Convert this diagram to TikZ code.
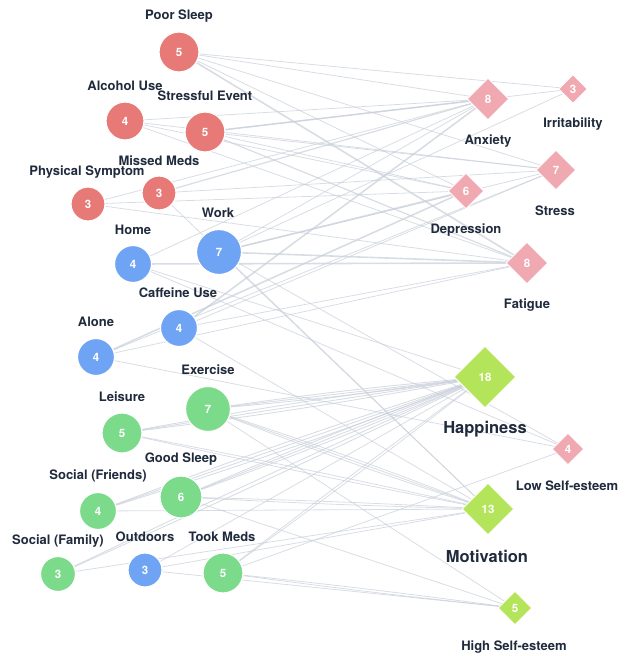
\documentclass[tikz,border=0pt]{standalone}
\usepackage{fontspec}
\setmainfont{TeX Gyre Heros}
\usetikzlibrary{shapes.geometric,backgrounds}
\definecolor{cred}{HTML}{E77A77}
\definecolor{cblue}{HTML}{6FA4F4}
\definecolor{cgreen}{HTML}{7BDB8B}
\definecolor{cpink}{HTML}{F0A9B1}
\definecolor{cgd}{HTML}{B4E45A}
\definecolor{ctext}{HTML}{1F2A3C}
\definecolor{cedge}{HTML}{C8CED9}
\begin{document}
\begin{tikzpicture}[x=1pt,y=-1pt,
 circ/.style={circle,draw=white,line width=1.2pt,inner sep=0pt,text=white,font=\bfseries\fontsize{11.5}{11.5}\selectfont},
 dia/.style={diamond,draw=white,line width=1pt,inner sep=0pt,text=white,font=\bfseries\fontsize{11.5}{11.5}\selectfont},
 lab/.style={text=ctext,font=\bfseries\fontsize{13}{13}\selectfont,inner sep=0pt},
 biglab/.style={text=ctext,font=\bfseries\fontsize{16.5}{16.5}\selectfont,inner sep=0pt},
 edge/.style={draw=cedge,opacity=0.7},
]
\useasboundingbox (0,0) rectangle (632,656);
% left nodes
\node[circ,fill=cred,minimum size=40pt] (ps) at (179,52) {5};
\node[lab] (psl) at (179,16) {Poor Sleep};
\node[circ,fill=cred,minimum size=38pt] (al) at (125,121) {4};
\node[lab] (all) at (125,86) {Alcohol Use};
\node[circ,fill=cred,minimum size=40pt] (se) at (205,132) {5};
\node[lab] (sel) at (205,96) {Stressful Event};
\node[circ,fill=cred,minimum size=34pt] (mm) at (159,193) {3};
\node[lab] (mml) at (159,161) {Missed Meds};
\node[circ,fill=cred,minimum size=34pt] (phy) at (88,204) {3};
\node[lab] (phyl) at (87,172) {Physical Symptom};
\node[circ,fill=cblue,minimum size=45pt] (wk) at (219,252) {7};
\node[lab] (wkl) at (218,213) {Work};
\node[circ,fill=cblue,minimum size=37pt] (hm) at (133,264) {4};
\node[lab] (hml) at (133,230) {Home};
\node[circ,fill=cblue,minimum size=37pt] (cf) at (179,328) {4};
\node[lab] (cfl) at (178,293) {Caffeine Use};
\node[circ,fill=cblue,minimum size=37pt] (aln) at (96,357) {4};
\node[lab] (alnl) at (96,322) {Alone};
\node[circ,fill=cgreen,minimum size=45pt] (ex) at (208,409) {7};
\node[lab] (exl) at (208,370) {Exercise};
\node[circ,fill=cgreen,minimum size=40pt] (le) at (122,433) {5};
\node[lab] (lel) at (122,397) {Leisure};
\node[circ,fill=cgreen,minimum size=42pt] (gs) at (181,497) {6};
\node[lab] (gsl) at (181,459) {Good Sleep};
\node[circ,fill=cgreen,minimum size=37pt] (fr) at (98,511) {4};
\node[lab] (frl) at (98,476) {Social (Friends)};
\node[circ,fill=cgreen,minimum size=35pt] (fa) at (58,574) {3};
\node[lab] (fal) at (58,541) {Social (Family)};
\node[circ,fill=cblue,minimum size=34pt] (od) at (145,570) {3};
\node[lab] (odl) at (145,537) {Outdoors};
\node[circ,fill=cgreen,minimum size=40pt] (tm) at (223,573) {5};
\node[lab] (tml) at (222,537) {Took Meds};
% right nodes
\node[dia,fill=cpink,minimum size=42pt] (anx) at (488,99) {8};
\node[lab] (anxl) at (488,141) {Anxiety};
\node[dia,fill=cpink,minimum size=29pt] (irr) at (573,89) {3};
\node[lab] (irrl) at (573,124) {Irritability};
\node[dia,fill=cpink,minimum size=40pt] (str) at (556,170) {7};
\node[lab] (strl) at (555,211) {Stress};
\node[dia,fill=cpink,minimum size=36pt] (dep) at (466,191) {6};
\node[lab] (depl) at (466,230) {Depression};
\node[dia,fill=cpink,minimum size=42pt] (fat) at (527,263) {8};
\node[lab] (fatl) at (527,305) {Fatigue};
\node[dia,fill=cgd,minimum size=62pt] (hap) at (485,377) {18};
\node[biglab] (hapl) at (485,429) {Happiness};
\node[dia,fill=cpink,minimum size=32pt] (lse) at (568,449) {4};
\node[lab] (lsel) at (567,486) {Low Self-esteem};
\node[dia,fill=cgd,minimum size=52pt] (mot) at (488,509) {13};
\node[biglab] (motl) at (487,556) {Motivation};
\node[dia,fill=cgd,minimum size=34pt] (hse) at (515,608) {5};
\node[lab] (hsel) at (514,647) {High Self-esteem};
% edges
\begin{scope}[on background layer]
\foreach \a/\b/\k/\w in {
 ps/irr/1/0.8, ps/anx/1/0.8, ps/str/1/0.8, ps/dep/1/0.8, ps/fat/1/1.6,
 al/anx/1/0.8, al/str/1/0.8, al/dep/1/0.8, al/fat/1/0.8,
 se/anx/1/1.6, se/irr/1/0.8, se/str/1/0.8, se/dep/1/0.8, se/fat/1/1.2,
 mm/anx/1/1.2, mm/str/1/0.8, mm/mot/1/0.8,
 phy/anx/1/0.8, phy/dep/1/0.8, phy/fat/1/0.8,
 wk/anx/1/0.8, wk/irr/1/0.8, wk/str/1/0.8, wk/dep/1/1.6, wk/fat/1/1.6, wk/lse/1/0.8, wk/mot/1/0.8,
 hm/anx/1/0.8, hm/fat/1/1.6, hm/lse/1/0.8, hm/hap/1/0.8,
 cf/anx/1/1.6, cf/str/1/0.8, cf/fat/1/0.8, cf/mot/1/0.8,
 aln/dep/1/1.6, aln/str/1/0.8, aln/fat/1/0.8, aln/lse/1/0.8,
 od/hap/1/0.8, od/mot/1/0.8, od/hse/1/0.8,
 ex/hap/3/0.9, ex/mot/3/0.8, ex/hse/1/0.8,
 le/hap/3/0.9, le/mot/2/0.8,
 gs/hap/3/0.9, gs/mot/2/0.8, gs/hse/1/0.8,
 fr/hap/3/0.9, fr/mot/1/0.8,
 fa/hap/2/0.9, fa/mot/1/0.8,
 tm/hap/2/0.8, tm/hse/2/0.8, tm/lse/1/0.8}{
  \foreach \i in {1,...,\k}{
    \pgfmathsetmacro\ang{(\i-(\k+1)/2)*1.6}
    \draw[edge,line width=\w pt] (\a.center) to[bend left=\ang] (\b.center);
  }
}
\end{scope}
\end{tikzpicture}
\end{document}
